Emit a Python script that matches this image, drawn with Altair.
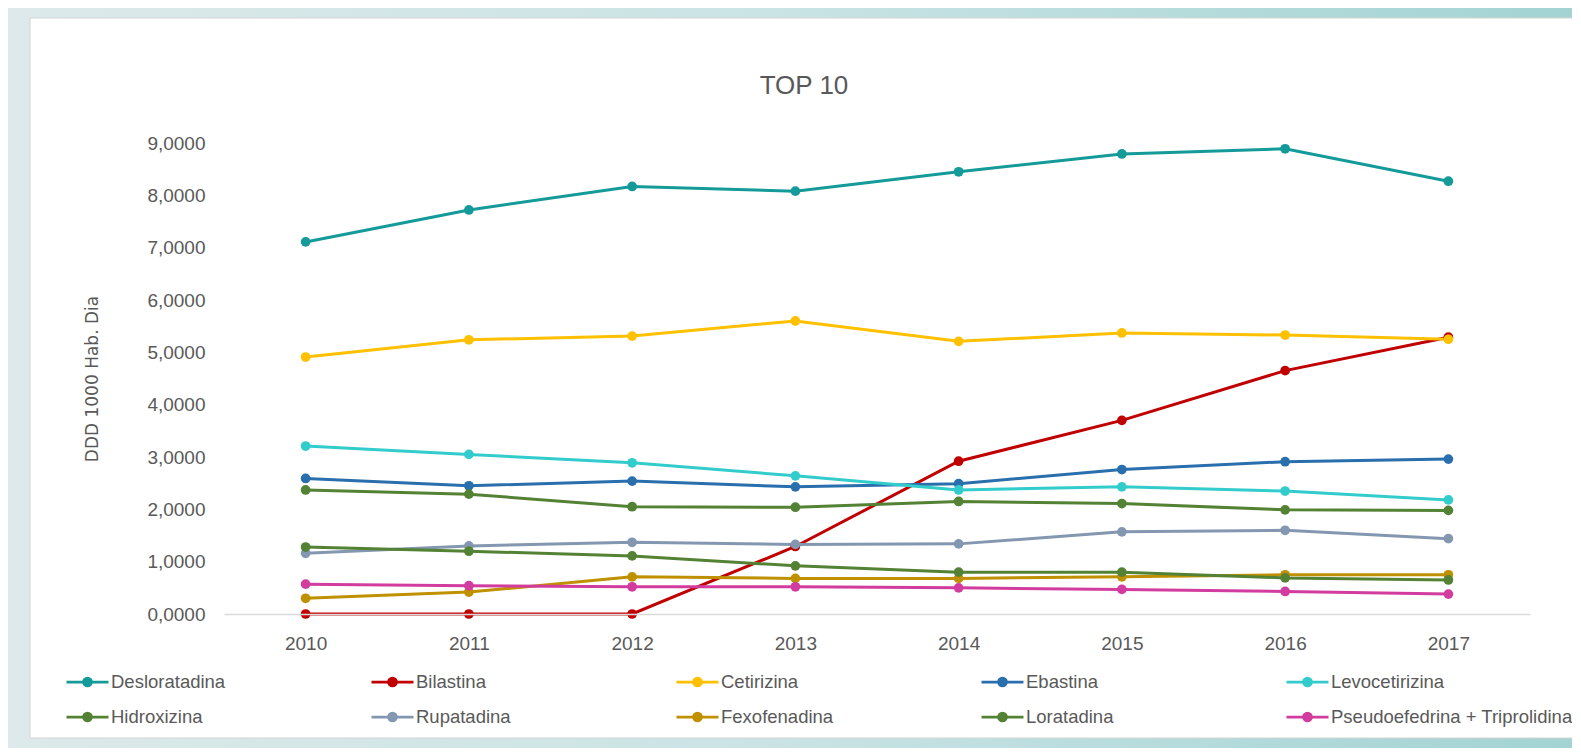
import altair as alt
import pandas as pd

years = [2010, 2011, 2012, 2013, 2014, 2015, 2016, 2017]
series_names = [
    "Desloratadina", "Bilastina", "Cetirizina", "Ebastina", "Levocetirizina",
    "Hidroxizina", "Rupatadina", "Fexofenadina", "Loratadina",
    "Pseudoefedrina + Triprolidina",
]
desloratadina = [7.11, 7.72, 8.17, 8.08, 8.45, 8.79, 8.89, 8.27]
bilastina = [0.00, 0.00, 0.00, 1.29, 2.92, 3.70, 4.65, 5.29]
cetirizina = [4.91, 5.24, 5.31, 5.60, 5.21, 5.37, 5.33, 5.25]
ebastina = [2.59, 2.45, 2.54, 2.43, 2.49, 2.76, 2.91, 2.96]
levocetirizina = [3.21, 3.05, 2.89, 2.64, 2.37, 2.43, 2.35, 2.18]
hidroxizina = [2.37, 2.29, 2.05, 2.04, 2.15, 2.11, 1.99, 1.98]
rupatadina = [1.16, 1.30, 1.37, 1.33, 1.34, 1.57, 1.60, 1.44]
fexofenadina = [0.30, 0.42, 0.71, 0.68, 0.68, 0.71, 0.75, 0.75]
loratadina = [1.28, 1.20, 1.11, 0.92, 0.80, 0.80, 0.69, 0.65]
pseudo_tripro = [0.57, 0.54, 0.52, 0.52, 0.50, 0.47, 0.43, 0.38]

series_values = [desloratadina, bilastina, cetirizina, ebastina, levocetirizina,
                 hidroxizina, rupatadina, fexofenadina, loratadina, pseudo_tripro]
series_colors = ["#139a99", "#c00000", "#ffc000", "#2a6fad", "#33cccc",
                 "#548235", "#8497b0", "#bf9000", "#548235", "#d33c9f"]

rows = []
for name, vals in zip(series_names, series_values):
    for y, v in zip(years, vals):
        rows.append({"Año": str(y), "Serie": name, "Valor": v})
df = pd.DataFrame(rows)

W, H = 1306, 471
PAD = {"left": 216, "top": 135, "right": 42, "bottom": 134}

FONT = "Liberation Sans"
GREY = "#595959"

legend_path = "M-1,0L1,0M-0.19,0A0.19,0.19,0,1,1,0.19,0A0.19,0.19,0,1,1,-0.19,0Z"

color_scale = alt.Scale(domain=series_names, range=series_colors)

x_enc = alt.X("Año:N", sort=[str(y) for y in years],
              scale=alt.Scale(type="point", padding=0.5),
              axis=alt.Axis(title=None, labelAngle=0, labelFont=FONT, labelFontSize=19,
                            labelColor=GREY, labelPadding=20, ticks=False, tickSize=0,
                            domain=True, domainColor="#d9d9d9", domainWidth=1.5,
                            grid=False, zindex=1))
y_enc = alt.Y("Valor:Q",
              scale=alt.Scale(domain=[0, 9], nice=False, zero=True),
              axis=alt.Axis(title="DDD 1000 Hab. Dia", values=list(range(0, 10)),
                            labelExpr="replace(format(datum.value, '.4f'), '.', ',')",
                            labelFont=FONT, labelFontSize=19, labelColor=GREY,
                            labelPadding=19, ticks=False, tickSize=0, domain=False, grid=False,
                            titleFont="DejaVu Sans", titleFontSize=17, titleFontWeight="normal",
                            titleColor=GREY, titleAngle=270, titleX=-132, titleY=H / 2,
                            titleAlign="center", titleBaseline="middle", zindex=1))

legend = alt.Legend(title=None, orient="none", legendX=-159, legendY=529, columns=5,
                    direction="horizontal",
                    gridAlign="all", columnPadding=17, rowPadding=15, clipHeight=20,
                    symbolType=legend_path, symbolSize=1764, symbolStrokeWidth=2.75,
                    labelFont=FONT, labelFontSize=18.5, labelColor=GREY, labelLimit=320,
                    labelOffset=1, symbolOpacity=1, zindex=1)

base = alt.Chart(df)

frame_bg = alt.Chart(pd.DataFrame({"k": [0]})).mark_rect(
    color=alt.Gradient(gradient="linear",
                       stops=[alt.GradientStop(color="#dde9ea", offset=0),
                              alt.GradientStop(color="#c9e3e4", offset=0.5),
                              alt.GradientStop(color="#a3d3d3", offset=1)],
                       x1=0, x2=1, y1=0, y2=0)
).encode(x=alt.value(-216), x2=alt.value(1348), y=alt.value(-135), y2=alt.value(605))

panel = alt.Chart(pd.DataFrame({"k": [0]})).mark_rect(
    color="white", stroke="#d4d4d4", strokeWidth=1
).encode(x=alt.value(-194), x2=alt.value(1352), y=alt.value(-125), y2=alt.value(595))

lines = base.mark_line(strokeWidth=3).encode(
    x=x_enc, y=y_enc,
    color=alt.Color("Serie:N", scale=color_scale, legend=legend),
    detail="Serie:N",
)
points = base.mark_point(filled=True, size=95, opacity=1).encode(
    x=x_enc, y=y_enc,
    color=alt.Color("Serie:N", scale=color_scale, legend=legend),
)

chart = alt.layer(frame_bg, panel, lines, points).properties(
    width=W, height=H,
    autosize=alt.AutoSizeParams(type="none"),
    padding=PAD,
    title=alt.TitleParams("TOP 10", font=FONT, fontSize=26, fontWeight="normal",
                          color=GREY, anchor="middle", frame="group", dx=-73,
                          offset=0, dy=104, baseline="middle"),
).configure_view(stroke=None).resolve_scale(color="shared")

chart.save("out.html", embed_options={"renderer": "svg", "actions": False})
